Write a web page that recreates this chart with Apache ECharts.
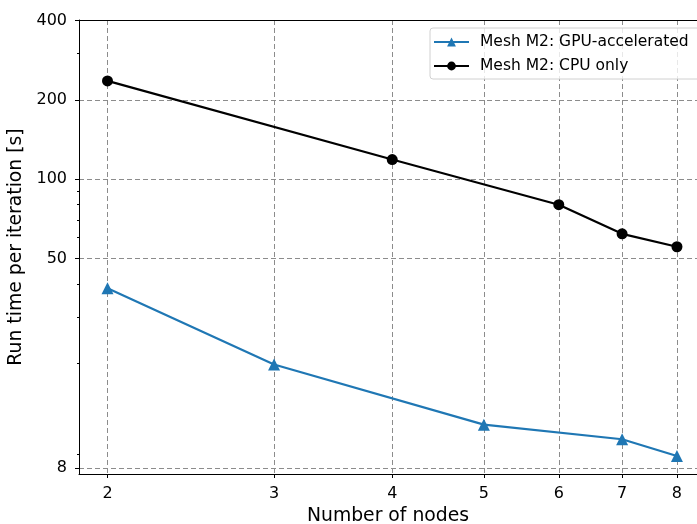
<!DOCTYPE html>
<html>
<head>
<meta charset="utf-8">
<script src="https://cdn.jsdelivr.net/npm/echarts@6/dist/echarts.min.js"></script>
<style>
html,body{margin:0;padding:0;background:#fff;}
#main{width:697px;height:524px;}
</style>
</head>
<body>
<div id="main"></div>
<script>
// data
var nodesGpu=[2,3,5,7,8];
var timeGpu=[38.5,19.8,11.7,10.3,8.9];
var nodesCpu=[2,4,6,7,8];
var timeCpu=[236,118.7,80,62,55.4];
var xTicks=[2,3,4,5,6,7,8];
var yTicks=[8,50,100,200,400];
var yMinor=[9,20,30,40,60,70,80,90,300];

var font="DejaVu Sans";
var myChart=echarts.init(document.getElementById('main'));

var pairs=function(xs,ys){
  var out=[];
  for(var i=0;i<xs.length;i++){ out.push([xs[i],ys[i]]); }
  return out;
}
var gridLine={show:true,lineStyle:{color:'#8c8c8c',type:[5,3],width:1}};

var options={
  animation:false,
  grid:{left:79,top:20,right:0,bottom:50,outerBoundsMode:'none',containLabel:false},
  legend:{
    orient:'vertical',left:430,top:28,
    itemWidth:35,itemHeight:11,itemGap:8,
    padding:[6,14,5,3],
    borderColor:'#d0d0d0',borderWidth:1,borderRadius:3,
    backgroundColor:'rgba(255,255,255,0.8)',
    textStyle:{fontFamily:font,fontSize:15.5,color:'#000',padding:[0,0,0,6]},
    data:['Mesh M2: GPU-accelerated','Mesh M2: CPU only']
  },
  xAxis:[{
    type:'log',min:1.866,max:8.40,
    name:'Number of nodes',nameLocation:'middle',nameGap:33,
    nameTextStyle:{fontFamily:font,fontSize:18.8,color:'#000'},
    axisLine:{show:true,onZero:false,lineStyle:{color:'#000',width:1}},
    axisTick:{show:true,length:4,customValues:xTicks,lineStyle:{color:'#000'}},
    axisLabel:{customValues:xTicks,margin:12,fontFamily:font,fontSize:16,color:'#000'},
    splitLine:gridLine
  },{
    type:'log',min:1.866,max:8.40,position:'top',
    axisLine:{show:true,onZero:false,lineStyle:{color:'#000',width:1}},
    axisTick:{show:false},axisLabel:{show:false},splitLine:{show:false}
  }],
  yAxis:[{
    type:'log',min:7.6,max:402,
    name:'Run time per iteration [s]',nameLocation:'middle',nameGap:40,
    nameTextStyle:{fontFamily:font,fontSize:18.8,color:'#000'},
    axisLine:{show:true,onZero:false,lineStyle:{color:'#000',width:1}},
    axisTick:{show:true,length:4,customValues:yTicks,lineStyle:{color:'#000'}},
    axisLabel:{customValues:yTicks,margin:12,fontFamily:font,fontSize:16,color:'#000'},
    splitLine:gridLine
  },{
    type:'log',min:7.6,max:402,position:'left',
    axisLine:{show:false},
    axisTick:{show:true,length:2,customValues:yMinor,lineStyle:{color:'#000'}},
    axisLabel:{show:false},
    splitLine:{show:false}
  }],
  series:[{
    name:'Mesh M2: GPU-accelerated',type:'line',
    data:pairs(nodesGpu,timeGpu),
    symbol:'triangle',symbolSize:12,
    lineStyle:{color:'#1f77b4',width:2.2},
    itemStyle:{color:'#1f77b4'}
  },{
    name:'Mesh M2: CPU only',type:'line',
    data:pairs(nodesCpu,timeCpu),
    symbol:'circle',symbolSize:11,
    lineStyle:{color:'#000',width:2.2},
    itemStyle:{color:'#000'}
  }]
};
myChart.setOption(options);
</script>
</body>
</html>
